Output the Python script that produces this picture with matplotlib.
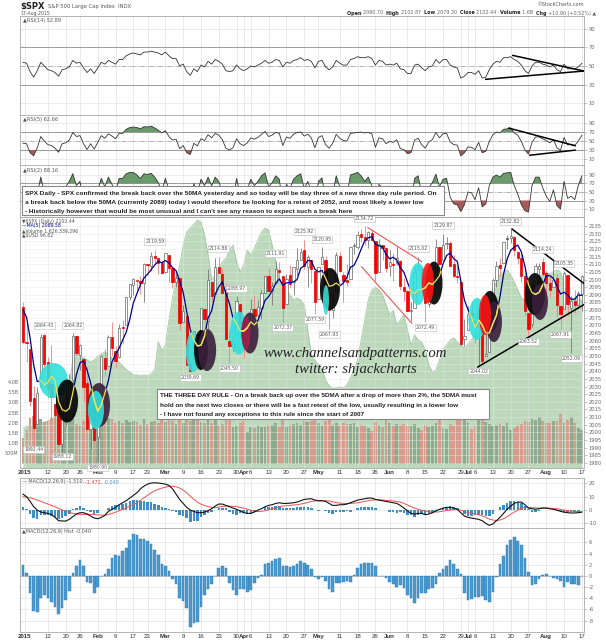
import numpy as np
import matplotlib.pyplot as plt
from matplotlib.patches import Ellipse, Rectangle
from matplotlib import font_manager

W, H = 606, 640

# $SPX daily bars, 31-Dec-2014 .. 17-Aug-2015 (one entry per trading day)
opens = [2082.1, 2058.9, 2054.4, 2022.2, 2005.6, 2030.6, 2063.5, 2046.1, 2031.6, 2018.4,
         2013.8, 1992.3, 2020.8, 2020.2, 2034.3, 2063.0, 2050.4, 2047.9, 2032.3, 2002.5, 2019.4,
         1996.7, 2022.7, 2048.9, 2043.5, 2062.3, 2053.5, 2049.4, 2068.6, 2070.0, 2088.8,
         2096.5, 2099.2, 2099.3, 2097.7, 2109.8, 2109.1, 2115.3, 2113.9, 2110.9,
         2105.2, 2115.8, 2107.7, 2098.5, 2100.9, 2072.3, 2076.1, 2044.7, 2041.1, 2064.6, 2055.4,
         2080.6, 2072.8, 2098.7, 2090.3, 2108.0, 2103.9, 2093.1, 2059.9, 2055.8, 2064.1, 2084.1,
         2067.6, 2060.0, 2064.9, 2080.8, 2076.9, 2081.3, 2091.5, 2102.0, 2092.3, 2097.8, 2106.0,
         2102.6, 2084.1, 2102.8, 2098.3, 2107.2, 2112.8, 2119.3, 2108.4, 2112.5, 2105.5,
         2087.4, 2110.2, 2112.6, 2091.3, 2080.0, 2092.1, 2115.6, 2102.9, 2099.6, 2100.4,
         2122.1, 2121.3, 2129.5, 2127.8, 2125.6, 2130.4, 2125.3, 2105.1, 2122.3, 2120.7,
         2108.6, 2110.4, 2110.6, 2112.4, 2095.1, 2092.3, 2079.1, 2081.1, 2106.2, 2107.4, 2091.3,
         2084.3, 2097.4, 2101.6, 2121.1, 2112.5, 2123.2, 2123.7, 2110.0, 2102.6, 2098.6, 2061.2,
         2067.0, 2078.0, 2073.0, 2069.5, 2077.7, 2049.7, 2052.7, 2080.0, 2099.7, 2109.2, 2110.6,
         2126.8, 2126.9, 2127.6, 2118.2, 2114.2, 2102.2, 2078.2, 2070.8, 2094.7, 2106.8, 2111.6,
         2104.5, 2097.7, 2095.3, 2100.8, 2082.6, 2081.0, 2102.7, 2081.1, 2086.2, 2083.2, 2090.7]
highs = [2085.6, 2072.4, 2054.4, 2030.3, 2029.6, 2064.1, 2064.43, 2049.3, 2056.9, 2018.4,
         2021.4, 2020.5, 2028.9, 2038.3, 2064.82, 2063.0, 2057.6, 2047.9, 2042.5, 2024.6, 2023.3,
         2021.7, 2050.3, 2054.7, 2063.6, 2072.4, 2056.2, 2070.9, 2073.5, 2088.5, 2097.0,
         2101.3, 2100.2, 2102.1, 2110.6, 2110.1, 2117.9, 2119.59, 2113.9, 2112.7,
         2117.5, 2115.8, 2107.7, 2104.3, 2100.9, 2083.5, 2076.1, 2050.1, 2066.4, 2064.6, 2081.4,
         2080.6, 2106.9, 2098.7, 2113.9, 2114.86, 2107.6, 2097.4, 2067.2, 2062.8, 2088.97, 2084.1,
         2067.6, 2072.2, 2087.0, 2089.8, 2086.7, 2093.3, 2102.6, 2107.7, 2098.6, 2111.91, 2111.3,
         2102.6, 2103.9, 2109.6, 2108.3, 2120.5, 2120.9, 2125.92, 2116.0, 2113.7, 2105.5,
         2108.4, 2120.95, 2115.2, 2098.4, 2092.9, 2117.7, 2117.7, 2105.1, 2110.2, 2121.5,
         2123.9, 2131.8, 2133.0, 2134.72, 2131.8, 2132.2, 2125.3, 2126.2, 2122.3, 2120.7,
         2119.2, 2117.6, 2121.9, 2112.9, 2101.0, 2093.0, 2085.6, 2108.5, 2115.02, 2107.4, 2091.3,
         2097.4, 2106.8, 2126.7, 2121.6, 2129.87, 2128.0, 2125.1, 2116.0, 2108.9, 2098.6, 2074.3,
         2082.8, 2085.1, 2078.6, 2083.7, 2077.7, 2074.3, 2081.3, 2100.7, 2112.0, 2114.1, 2124.4,
         2128.9, 2132.82, 2128.5, 2118.5, 2116.9, 2106.0, 2078.2, 2095.6, 2110.6, 2110.5, 2114.24,
         2105.7, 2102.5, 2112.7, 2103.3, 2082.6, 2105.35, 2102.7, 2089.1, 2092.9, 2092.5, 2102.87]
lows = [2057.9, 2046.0, 2017.3, 1992.44, 2005.6, 2030.6, 2038.3, 2022.6, 2008.3, 1988.4,
        1991.5, 1988.12, 2004.5, 2012.0, 2026.4, 2050.5, 2041.0, 2019.9, 2001.5, 1989.2, 1993.4,
        1980.9, 2022.7, 2036.7, 2043.5, 2050.0, 2041.9, 2048.6, 2058.0, 2070.0, 2086.7,
        2089.8, 2092.2, 2090.8, 2085.4, 2103.0, 2105.9, 2109.9, 2103.8, 2103.8,
        2104.5, 2098.3, 2094.5, 2095.2, 2067.3, 2072.2, 2044.2, 2039.69, 2041.1, 2041.2, 2055.4,
        2065.1, 2061.2, 2085.6, 2090.3, 2104.4, 2091.5, 2061.1, 2045.5, 2053.0, 2064.1, 2067.0,
        2048.4, 2057.3, 2056.5, 2076.1, 2073.3, 2074.3, 2091.5, 2092.3, 2083.2, 2097.8, 2100.0,
        2072.37, 2084.1, 2094.4, 2090.0, 2103.2, 2112.8, 2107.0, 2094.9, 2097.4, 2077.59,
        2087.4, 2110.2, 2088.5, 2067.93, 2075.0, 2092.1, 2104.6, 2085.6, 2096.0, 2100.4,
        2116.8, 2120.0, 2124.5, 2122.6, 2120.9, 2126.1, 2099.2, 2105.1, 2112.9, 2104.9,
        2102.5, 2099.1, 2109.6, 2093.2, 2085.7, 2079.1, 2073.0, 2081.1, 2106.2, 2091.3, 2072.49,
        2082.1, 2088.9, 2101.6, 2109.5, 2112.5, 2119.9, 2108.6, 2101.8, 2098.0, 2056.6, 2056.3,
        2067.0, 2071.0, 2058.4, 2044.02, 2044.5, 2049.7, 2052.7, 2080.0, 2095.0, 2102.5, 2110.6,
        2119.9, 2123.7, 2115.4, 2110.0, 2098.6, 2077.1, 2063.52, 2069.1, 2094.1, 2094.1, 2102.1,
        2087.3, 2088.6, 2095.3, 2075.5, 2067.91, 2081.0, 2076.5, 2052.09, 2078.3, 2080.6, 2079.3]
closes = [2058.9, 2058.2, 2020.6, 2002.6, 2025.9, 2062.1, 2044.8, 2028.3, 2023.0, 2011.3,
          1992.7, 2019.4, 2022.6, 2032.1, 2063.2, 2051.8, 2057.1, 2029.6, 2002.2, 2021.3, 1995.0,
          2020.9, 2050.0, 2041.5, 2062.5, 2055.5, 2046.7, 2068.6, 2068.5, 2088.5, 2097.0,
          2100.3, 2099.7, 2097.5, 2110.3, 2109.7, 2115.5, 2113.9, 2110.7, 2104.5,
          2117.4, 2107.8, 2098.5, 2101.0, 2071.3, 2079.4, 2044.2, 2040.2, 2066.0, 2053.4, 2081.2,
          2074.3, 2099.5, 2089.3, 2108.1, 2104.4, 2091.5, 2061.1, 2056.2, 2061.0, 2086.2, 2067.9,
          2059.7, 2067.0, 2080.6, 2076.3, 2081.9, 2091.2, 2102.1, 2092.4, 2095.8, 2106.6, 2105.0,
          2081.2, 2100.4, 2097.3, 2108.0, 2112.9, 2117.7, 2108.9, 2114.8, 2106.9, 2085.5,
          2108.3, 2114.5, 2089.5, 2080.2, 2088.0, 2116.1, 2105.3, 2099.1, 2098.5, 2121.1,
          2122.7, 2129.2, 2127.8, 2125.9, 2130.8, 2126.1, 2104.2, 2123.5, 2120.8, 2107.4,
          2111.7, 2109.6, 2114.1, 2095.8, 2092.8, 2079.3, 2080.2, 2105.2, 2108.9, 2094.1, 2084.4,
          2096.3, 2100.4, 2121.2, 2110.0, 2122.9, 2124.2, 2108.6, 2102.3, 2101.5, 2057.6, 2063.1,
          2077.4, 2076.8, 2068.8, 2081.3, 2046.7, 2051.3, 2076.6, 2099.6, 2109.0, 2107.4, 2124.3,
          2126.6, 2128.3, 2119.2, 2114.2, 2102.2, 2079.7, 2067.6, 2093.3, 2108.6, 2108.6, 2103.8,
          2098.0, 2093.3, 2099.8, 2083.6, 2077.6, 2104.2, 2084.1, 2086.1, 2083.4, 2091.5, 2102.44]
prev_close = 2080.35  # 30-Dec-2014

ma5 = [2080.1, 2075.4, 2061.7, 2044.1, 2033.2, 2033.9, 2031.2, 2032.7, 2036.8, 2033.9,
       2020.0, 2014.9, 2013.8, 2015.6, 2026.0, 2037.8, 2045.4, 2046.8, 2040.8, 2032.4,
       2021.0, 2013.8, 2017.9, 2025.7, 2034.0, 2046.1, 2051.2, 2055.0, 2060.4, 2065.6,
       2073.9, 2084.6, 2090.8, 2096.6, 2101.0, 2103.5, 2106.5, 2109.4, 2112.0, 2110.9,
       2112.4, 2110.9, 2107.8, 2105.8, 2099.2, 2091.6, 2078.9, 2067.2, 2060.2, 2056.6,
       2057.0, 2063.0, 2074.9, 2079.5, 2090.5, 2095.1, 2098.6, 2090.9, 2084.3, 2074.8,
       2071.2, 2066.5, 2066.2, 2068.4, 2072.3, 2070.3, 2073.1, 2079.4, 2086.4, 2088.8,
       2092.7, 2097.6, 2100.4, 2096.2, 2097.8, 2098.1, 2098.4, 2100.0, 2107.3, 2109.0,
       2112.5, 2112.2, 2106.8, 2104.9, 2106.0, 2100.9, 2095.6, 2096.1, 2097.7, 2095.8,
       2097.7, 2101.4, 2108.0, 2109.3, 2114.1, 2119.9, 2125.3, 2127.3, 2128.0, 2123.0,
       2122.1, 2121.1, 2116.4, 2113.5, 2114.6, 2112.7, 2107.7, 2104.8, 2098.3, 2092.4,
       2090.7, 2093.3, 2093.5, 2094.6, 2097.8, 2096.8, 2099.3, 2102.5, 2110.2, 2115.7,
       2117.4, 2113.6, 2111.9, 2098.8, 2086.6, 2080.4, 2075.3, 2068.7, 2073.5, 2070.2,
       2065.0, 2064.9, 2071.1, 2076.6, 2088.8, 2103.4, 2113.4, 2119.1, 2121.2, 2122.5,
       2118.1, 2108.7, 2096.6, 2091.4, 2090.3, 2091.6, 2096.4, 2102.5, 2102.5, 2100.7,
       2095.7, 2090.5, 2091.7, 2089.9, 2087.1, 2087.1, 2089.9, 2089.58]

volume_b = [1.25, 1.65, 2.25, 2.35, 2.15, 2.2, 2.05, 2.1, 2.25, 2.35,
            2.25, 2.5, 2.2, 2.2, 2.5, 1.95, 1.9, 2.1, 2.35, 2.25,
            2.55, 2.1, 2.35, 2.3, 2.25, 2.2, 2.0, 2.1, 2.0, 2.15,
            2.05, 2.1, 2.05, 1.9, 2.2, 1.95, 2.05, 2.1, 2.0, 2.2,
            2.05, 2.15, 2.1, 1.95, 2.25, 2.0, 2.45, 2.1, 2.3, 2.2,
            2.05, 2.0, 2.35, 2.0, 2.6, 1.9, 1.95, 2.2, 2.15, 1.8,
            1.85, 2.0, 2.1, 1.55, 1.8, 1.75, 1.85, 1.8, 1.8, 1.9,
            1.9, 2.0, 1.8, 2.4, 1.8, 1.9, 1.95, 2.0, 1.9, 2.1,
            2.05, 2.1, 2.45, 2.0, 1.85, 2.1, 2.2, 1.9, 2.0, 1.85,
            2.0, 1.95, 1.95, 2.0, 1.8, 1.9, 1.85, 1.75, 1.6, 2.05,
            1.9, 1.8, 2.35, 2.0, 1.85, 1.95, 1.9, 1.95, 1.85, 1.85,
            1.95, 1.75, 1.65, 1.9, 1.8, 1.85, 2.0, 2.5, 1.75, 1.7,
            1.95, 1.85, 2.4, 2.3, 2.2, 2.05, 1.7, 1.9, 2.3, 2.25,
            2.05, 1.95, 1.85, 1.9, 1.95, 1.85, 2.0, 1.65, 1.75, 1.85,
            1.95, 2.1, 2.05, 2.2, 2.15, 2.3, 2.1, 2.0, 2.0, 2.1,
            2.1, 2.45, 2.0, 2.15, 2.3, 2.0, 1.75, 1.63]

usd = [91.34, 91.39, 91.43, 91.47, 91.52, 91.56, 91.60, 91.65, 91.69, 91.78,
       91.91, 92.13, 92.56, 93.21, 94.30, 94.60, 94.52, 94.39, 94.30, 94.21,
       94.30, 94.47, 94.56, 94.65, 94.52, 94.39, 94.30, 94.21, 94.04, 93.87,
       93.78, 93.65, 93.65, 93.60, 93.65, 93.60, 93.69, 93.87, 95.08, 94.73,
       94.95, 96.04, 97.00, 97.78, 98.43, 99.30, 99.87, 100.04, 100.21, 100.39,
       100.30, 99.73, 98.87, 97.78, 98.00, 98.30, 98.56, 98.73, 99.08, 99.30,
       98.56, 98.13, 98.43, 99.08, 98.87, 99.17, 99.52, 99.87, 100.04, 99.95,
       99.30, 98.56, 97.87, 97.56, 97.34, 97.13, 96.91, 97.00, 96.91, 96.69,
       95.60, 94.52, 94.30, 94.08, 93.87, 93.43, 93.17, 93.08, 93.08, 93.13,
       93.08, 93.21, 93.52, 93.87, 94.30, 95.17, 96.04, 96.91, 97.34, 97.47,
       97.34, 97.13, 96.69, 96.26, 96.47, 95.82, 96.04, 96.26, 95.60, 94.95,
       95.39, 95.17, 95.08, 94.73, 94.08, 93.78, 93.87, 94.30, 94.73, 94.95,
       95.17, 95.26, 95.08, 94.95, 94.82, 95.00, 95.17, 95.39, 95.52, 95.60,
       96.04, 96.91, 97.34, 97.69, 98.00, 98.13, 98.21, 98.00, 97.69, 97.34,
       97.00, 96.91, 97.34, 97.56, 97.78, 97.95, 98.00, 98.13, 98.04, 98.13,
       98.21, 98.13, 97.56, 97.13, 96.91, 97.00, 97.08, 96.82]

rsi14 = [54, 53, 44, 38, 45, 54, 50, 46, 45, 43,
         39, 46, 47, 49, 56, 53, 54, 48, 43, 47,
         42, 48, 54, 52, 56, 54, 52, 57, 57, 61,
         63, 64, 63, 62, 65, 65, 66, 65, 64, 62,
         65, 61, 58, 58, 50, 52, 44, 40, 47, 44,
         51, 49, 55, 52, 57, 55, 52, 45, 44, 45,
         51, 47, 45, 47, 50, 49, 51, 53, 56, 53,
         54, 57, 56, 49, 54, 53, 56, 57, 59, 56,
         57, 55, 48, 55, 56, 49, 46, 49, 56, 53,
         51, 51, 57, 58, 60, 59, 59, 60, 58, 51,
         56, 55, 51, 52, 51, 53, 47, 46, 42, 42,
         51, 52, 48, 45, 49, 50, 57, 53, 57, 57,
         51, 49, 48, 37, 39, 43, 43, 41, 45, 37,
         38, 46, 52, 55, 54, 59, 59, 60, 57, 55,
         51, 45, 42, 50, 54, 54, 52, 51, 49, 51,
         46, 44, 52, 47, 47, 47, 49, 52.89]
rsi5 = [45, 44, 24, 17, 35, 60, 50, 42, 40, 34,
        25, 44, 46, 52, 69, 60, 62, 44, 31, 44,
        32, 47, 62, 56, 66, 61, 55, 67, 67, 76,
        80, 81, 80, 77, 82, 81, 83, 79, 74, 68,
        73, 60, 52, 54, 33, 40, 24, 20, 45, 39,
        55, 51, 64, 57, 67, 63, 53, 34, 30, 35,
        55, 44, 40, 46, 57, 54, 58, 65, 71, 60,
        63, 69, 67, 40, 59, 56, 65, 69, 70, 61,
        65, 57, 35, 58, 62, 42, 34, 45, 65, 56,
        51, 50, 67, 68, 69, 70, 68, 69, 66, 36,
        57, 55, 44, 49, 47, 53, 33, 31, 22, 24,
        52, 56, 42, 34, 48, 53, 69, 57, 66, 67,
        48, 42, 41, 17, 24, 37, 36, 31, 47, 24,
        27, 49, 64, 70, 68, 76, 77, 79, 68, 63,
        49, 30, 21, 47, 59, 59, 55, 51, 46, 53,
        35, 29, 58, 41, 43, 40, 50, 62.66]
rsi2 = [10, 9, 3, 2, 45, 85, 50, 30, 25, 18,
        8, 55, 62, 75, 93, 65, 75, 30, 12, 45,
        15, 55, 82, 62, 85, 68, 50, 82, 82, 93,
        96, 96, 90, 82, 93, 91, 94, 85, 72, 52,
        82, 55, 35, 45, 10, 40, 7, 5, 70, 45,
        80, 65, 85, 65, 85, 75, 48, 15, 10, 30,
        82, 45, 30, 55, 80, 65, 75, 88, 95, 62,
        72, 88, 80, 20, 68, 58, 80, 88, 93, 58,
        75, 52, 18, 75, 83, 32, 20, 45, 88, 62,
        45, 42, 90, 93, 96, 88, 75, 85, 65, 15,
        68, 60, 33, 50, 42, 60, 18, 14, 6, 15,
        82, 88, 45, 25, 60, 72, 92, 62, 80, 82,
        38, 22, 20, 4, 20, 50, 48, 32, 60, 15,
        22, 65, 85, 90, 85, 94, 95, 96, 65, 45,
        20, 6, 3, 65, 85, 85, 60, 40, 28, 55,
        18, 10, 75, 35, 40, 32, 65, 88.16]

macd = [12, 10, 6.5, 2.5, 0, -1.5, -2, -2.5, -3.5, -5.5,
        -8, -8.2, -8.3, -7, -5, -3, -2, -2, -3, -4.5,
        -6, -6.5, -5.5, -4, -1, 0.5, 2, 4, 5.5, 7,
        9, 11, 13, 16, 18, 19.5, 20.3, 20.5, 20.3, 20,
        19.5, 18.5, 16, 12, 8, 5, 2, 0, -1, -2,
        -2, -1.5, -0.5, 1, 3, 4.5, 4.5, 3.5, 2.5, 1.5,
        0.5, -0.5, -2, -2.5, -2.5, -1.5, 0, 1, 2.5, 3.5,
        4, 5, 5.5, 5, 5, 5.2, 5.5, 6, 7, 8,
        8.3, 8.5, 7.5, 7, 7, 6.5, 5, 3.5, 3.5, 4,
        4, 4.5, 5.5, 6.5, 7.5, 8, 8.5, 9, 9, 8,
        7.5, 7, 6.5, 6, 5.5, 5, 3.5, 1.5, -0.5, -2.5,
        -3, -2.5, -2.5, -3.5, -3, -2, -0.5, 0.5, 1.5, 2,
        2, 1.5, 0.5, -2, -4.5, -5.5, -6, -6.5, -7, -8,
        -10, -11.5, -10.5, -8, -5.5, -2.5, 0.5, 3, 5, 6,
        6, 4, 1.5, 1, 0.5, 1, 1.5, 1.5, 1, 0.5,
        0, -1, -1.5, -2, -2.2, -2.2, -2, -1.51]
signal = [10, 9.8, 9.2, 8.5, 7.5, 6.5, 5.5, 4.5, 3.5, 2.5,
          1.2, 0, -1, -1.8, -2.5, -3, -3.2, -3.3, -3.2, -3.2,
          -3.4, -3.6, -3.8, -3.8, -3.4, -2.6, -1.6, -0.5, 0.5, 1.5,
          2.8, 4, 5.4, 7.3, 9.3, 11.2, 13, 14.5, 15.6, 16.5,
          17.2, 17.8, 18, 17.5, 16.5, 15, 13, 10.5, 8, 6,
          4.4, 3.5, 2.6, 2, 1.8, 2.2, 2.8, 3, 3, 2.8,
          2.5, 2, 1.4, 0.6, -0.2, -0.8, -1.1, -1, -0.5, 0.2,
          0.9, 1.7, 2.5, 3, 3.3, 3.5, 3.8, 4, 4.5, 5,
          5.8, 6.5, 6.8, 7, 7, 7, 6.8, 6.2, 5.6, 5.2,
          5, 4.9, 4.9, 5.2, 5.5, 6, 6.5, 7, 7.5, 7.7,
          7.7, 7.5, 7.3, 7.1, 6.8, 6.5, 6, 5, 3.8, 2.5,
          1.5, 0.5, -0.2, -0.8, -1.3, -1.5, -1.5, -1.3, -0.8, -0.4,
          0, 0.3, 0.3, 0, -1, -1.9, -2.5, -3, -3.5, -4.5,
          -5.5, -6.8, -7.5, -8, -7.5, -6.5, -5, -3.2, -1.5, 0,
          1.5, 2, 2, 1.8, 1.7, 1.5, 1.5, 1.5, 1.4, 1.2,
          1, 0.5, 0, -0.4, -0.8, -1.1, -1.3, -1.47]
hist = [2, 0.5, -3, -6.3, -6.5, -4, -3.5, -4, -4.7, -5.5,
        -6.8, -5.7, -4.4, -2.7, 0.5, 1.7, 2.8, 1.7, -1, -1.2,
        -3, -2, 0, 0.3, 1.3, 3.2, 3.8, 3.5, 4.5, 5,
        6.5, 7.6, 7.4, 6.7, 6.6, 6.2, 5.7, 4.6, 3.8, 2.1,
        1.8, 0.8, -0.5, -1.5, -4, -4.5, -5.7, -9.2, -8.5, -8.2,
        -5.5, -3.5, -2.4, -1.4, 0, 1.4, 1.7, 1.4, -1.2, -2.6,
        -3.4, -2.3, -2.4, -2.8, -2.6, -1.2, -0.3, 0.1, 2.2, 2.3,
        2.6, 3, 3.2, 1.8, 1.8, 1.6, 1.8, 2.2, 2.6, 2.3,
        2, 1.3, -0.2, -0.5, -0.2, -0.9, -2.3, -2.8, -1.3, -1.2,
        -1.1, -0.9, -1.1, 0.2, 1.5, 2.1, 2.3, 2.3, 2.4, 1.8,
        0, 0, -0.3, -1.1, -1.5, -2, -1.6, -2.2, -3.4, -4,
        -4.9, -4, -3, -3.1, -2.3, -2.1, -1.5, 0.6, 1.2, 1.8,
        2.8, 2.1, 1.2, 0.3, -3, -4.3, -4.1, -3.8, -3.8, -3.6,
        -4.3, -4.6, -2.9, -0.1, 2.2, 3.6, 5.6, 6.5, 7, 6.3,
        5.5, 3.3, 0.7, -1.6, -1.5, -0.6, 0.2, 0.3, 0, -0.3,
        -0.6, -0.9, -2, -1.1, -1.4, -1.5, -1.6, -0.04]

tick_pos = [0.5, 7, 12, 16, 21, 26, 31, 35, 40, 45, 50, 55, 60, 62, 64, 69, 74, 79,
            83, 89, 94, 99, 103, 108, 113, 118, 123, 125, 127, 132, 137, 142, 147, 152, 157]
tick_lbl = ['2015', '12', '20', '26', 'Feb', '9', '17', '23', 'Mar', '9', '16', '23', '30',
            'Apr', '6', '13', '20', '27', 'May', '11', '18', '26', 'Jun', '8', '15', '22', '29',
            'Jul', '6', '13', '20', '27', 'Aug', '10', '17']
months = {'2015', 'Feb', 'Mar', 'Apr', 'May', 'Jun', 'Jul', 'Aug'}

# high / low annotations: (bar, value, side)
price_labels = [(6, 2064.43, 'hi'), (14, 2064.82, 'hi'), (3, 1992.44, 'lo'), (11, 1988.12, 'lo'),
                (21, 1980.90, 'lo'), (37, 2119.59, 'hi'), (47, 2039.69, 'lo'), (55, 2114.86, 'hi'),
                (58, 2045.50, 'lo'), (60, 2088.97, 'hi'), (71, 2111.91, 'hi'), (73, 2072.37, 'lo'),
                (79, 2125.92, 'hi'), (84, 2120.95, 'hi'), (82, 2077.59, 'lo'), (86, 2067.93, 'lo'),
                (96, 2134.72, 'hi'), (111, 2115.02, 'hi'), (113, 2072.49, 'lo'), (118, 2129.87, 'hi'),
                (128, 2044.02, 'lo'), (137, 2132.82, 'hi'), (142, 2063.52, 'lo'), (146, 2114.24, 'hi'),
                (151, 2067.91, 'lo'), (152, 2105.35, 'hi'), (154, 2052.09, 'lo')]

CYAN, BLACK, PURPLE, RED, CRIMSON = '#2fe0dc', '#000000', '#3a1f3c', '#ff1414', '#a0204c'
# hand drawn ellipses: (bar, price, width in bars, height in points, colour)
ellipses = [(8.57, 2033.9, 8.1, 22.9, CYAN), (12.36, 2020.5, 6.2, 28.1, BLACK),
            (21.35, 2017.9, 6.2, 28.8, PURPLE), (20.5, 2014.7, 4.5, 24.9, CYAN),
            (47.75, 2052.6, 3.9, 26.2, CYAN), (50.0, 2053.9, 3.9, 26.2, BLACK),
            (51.7, 2053.9, 5.1, 27.5, PURPLE),
            (60.67, 2065.0, 5.1, 28.1, CYAN), (63.76, 2065.0, 4.8, 26.8, PURPLE),
            (62.64, 2065.0, 2.5, 22.2, CRIMSON),
            (86.24, 2093.8, 5.6, 27.5, BLACK), (85.11, 2086.6, 1.7, 19.6, CYAN),
            (110.96, 2097.1, 4.8, 27.5, CYAN), (115.45, 2097.7, 4.8, 28.1, BLACK),
            (113.76, 2097.7, 3.4, 26.2, RED),
            (127.53, 2074.2, 4.8, 27.5, CYAN), (131.18, 2078.8, 5.1, 27.5, BLACK),
            (132.3, 2072.2, 4.5, 26.2, PURPLE), (129.78, 2076.8, 3.4, 26.2, RED),
            (143.82, 2090.5, 5.6, 27.5, BLACK), (145.22, 2085.3, 4.5, 23.5, PURPLE)]

black_lines = [((137.4, 2133.0), (157.6, 2097.4)), ((127.8, 2042.8), (157.6, 2083.6))]
red_lines = [((96.9, 2133.9), (112.0, 2111.7)), ((95.1, 2108.4), (109.2, 2071.4))]
rsi14_lines = [((137.6, 61.4), (157.6, 44.6)), ((130.0, 35.7), (157.6, 44.6))]
rsi5_lines = [((136.5, 78.6), (155.1, 39.5)), ((142.4, 18.4), (155.1, 29.7))]

note_top = ["SPX Daily - SPX confirmed the break back over the 50MA yesterday and so today will be day three of a new three day rule period. On",
            "a break back below the 50MA (currently 2089) today I would therefore be looking for a retest of 2052, and most likely a lower low",
            "- Historically however that would be most unusual and I can't see any reason to expect such a break here"]
note_rule = ["THE THREE DAY RULE - On a break back up over the 5DMA after a drop of more than 2%, the 5DMA must",
             "hold on the next two closes or there will be a fast retest of the low, usually resulting in a lower low",
             "- I have not found any exceptions to this rule since the start of 2007"]

# ---------------------------------------------------------------------------
N = len(closes)
for name, s in [('opens', opens), ('highs', highs), ('lows', lows), ('ma5', ma5), ('vol', volume_b),
                ('usd', usd), ('rsi14', rsi14), ('rsi5', rsi5), ('rsi2', rsi2), ('macd', macd),
                ('signal', signal), ('hist', hist)]:
    assert len(s) == N, (name, len(s), N)

x = np.arange(N)
o, h, l, c = map(np.array, (opens, highs, lows, closes))
XL = (-0.84, 157.6)
GRID = '#e3e3e3'
SPINE = '#a8a8a8'
LBL = '#666666'

names = {f.name for f in font_manager.fontManager.ttflist}
NARROW = 'Liberation Sans Narrow' if 'Liberation Sans Narrow' in names else 'Liberation Sans'

fig = plt.figure(figsize=(W / 100, H / 100), dpi=100)
fig.patch.set_facecolor('white')
renderer = fig.canvas.get_renderer()


def px_axes(x0, y0, x1, y1, **kw):
    return fig.add_axes([x0 / W, 1 - y1 / H, (x1 - x0) / W, (y1 - y0) / H], **kw)


def fx(px):
    return px / W


def fy(py):
    return 1 - py / H


def style(ax, yticks, ylim, ylabels=None, grid=True):
    ax.set_xlim(XL)
    ax.set_ylim(ylim)
    ax.set_xticks(tick_pos)
    ax.tick_params(axis='x', length=0, labelbottom=False)
    ax.yaxis.tick_right()
    ax.set_yticks(yticks)
    ax.set_yticklabels(ylabels if ylabels is not None else [str(t) for t in yticks])
    ax.tick_params(axis='y', length=2, width=0.4, color='#999999', labelcolor=LBL,
                   labelsize=3.7, pad=1.2)
    if grid:
        ax.grid(True, color=GRID, lw=0.5, zorder=0)
        ax.set_axisbelow(True)
    for s in ax.spines.values():
        s.set_color(SPINE)
        s.set_linewidth(0.6)


def date_labels(ax):
    ax.tick_params(axis='x', labelbottom=True, pad=1.5)
    ax.set_xticklabels(tick_lbl)
    for t in ax.get_xticklabels():
        t.set_family(NARROW)
        t.set_fontsize(4.4)
        t.set_color('#333333')
        if t.get_text() in months:
            t.set_fontweight('bold')


def fit(t, width_px):
    w = t.get_window_extent(renderer).width
    t.set_fontsize(t.get_fontsize() * width_px / w)


def segments(x0, y, parts, size):
    xx = x0
    for s, wgt, col in parts:
        t = fig.text(fx(xx), fy(y), s, fontsize=size, fontweight=wgt, color=col,
                     va='center', ha='left')
        xx += t.get_window_extent(renderer).width
    return xx


def rsi_panel(ax, vals, ylim, fills):
    style(ax, [10, 30, 50, 70, 90], ylim)
    ax.axhline(70, color='#9a9a9a', lw=0.7, zorder=1)
    ax.axhline(30, color='#9a9a9a', lw=0.7, zorder=1)
    ax.axhline(50, color='#aaaaaa', lw=0.6, ls=(0, (6, 2, 1, 2)), zorder=1)
    v = np.array(vals, dtype=float)
    if fills:
        ax.fill_between(x, v, 70, where=v > 70, interpolate=True, color='#6a9a6a',
                        lw=0, zorder=2)
        ax.fill_between(x, v, 30, where=v < 30, interpolate=True, color='#a65a5a',
                        lw=0, zorder=2)
    ax.plot(x, v, color='#333333', lw=0.6, zorder=3)


# ---- RSI panels ------------------------------------------------------------
ax14 = px_axes(20, 16, 584, 115)
rsi_panel(ax14, rsi14, (-2.7, 103.8), False)
for (a, b) in rsi14_lines:
    ax14.plot([a[0], b[0]], [a[1], b[1]], color='black', lw=1.1, zorder=4)
ax14.text(0.005, 0.95, '\u25b2RSI(14) 52.89', transform=ax14.transAxes, fontsize=3.6,
          color='#555555', va='center')

ax5 = px_axes(20, 115, 584, 165)
rsi_panel(ax5, rsi5, (-3.3, 107.8), True)
for (a, b) in rsi5_lines:
    ax5.plot([a[0], b[0]], [a[1], b[1]], color='black', lw=1.1, zorder=4)
ax5.text(0.005, 0.9, '\u25b2RSI(5) 62.66', transform=ax5.transAxes, fontsize=3.6,
         color='#555555', va='center')

ax2 = px_axes(20, 165, 584, 217)
rsi_panel(ax2, rsi2, (-8.8, 113.5), True)
ax2.text(0.005, 0.9, '\u25b2RSI(2) 88.16', transform=ax2.transAxes, fontsize=3.6,
         color='#555555', va='center')

# ---- price panel: USD area, volume, candles ----------------------------------
ax_usd = px_axes(20, 217, 584, 468)
ax_usd.set_zorder(1)
ax_usd.set_xlim(XL)
ax_usd.set_ylim(89.6, 100.52)
ax_usd.axis('off')
ax_usd.fill_between(x, 89.6, usd, color='#bcd9bc', lw=0)
ax_usd.plot(x, usd, color='#9fc59f', lw=0.6)

ax_vol = px_axes(20, 217, 584, 468)
ax_vol.set_zorder(2)
ax_vol.patch.set_alpha(0)
ax_vol.set_xlim(XL)
ax_vol.set_ylim(-0.22, 12.09)
prev = np.r_[prev_close, c[:-1]]
vol_col = np.where(c >= prev, '#8fa98f', '#d69c8e')
ax_vol.bar(x, volume_b, width=0.78, color=vol_col, lw=0)
ax_vol.set_xticks([])
ax_vol.set_yticks([0.5, 1.0, 1.5, 2.0, 2.5, 3.0, 3.5, 4.0])
ax_vol.set_yticklabels(['500M', '1.0B', '1.5B', '2.0B', '2.5B', '3.0B', '3.5B', '4.0B'])
ax_vol.tick_params(axis='y', length=0, labelsize=3.5, labelcolor=LBL, pad=1)
for s in ax_vol.spines.values():
    s.set_visible(False)

ax = px_axes(20, 217, 584, 468)
ax.set_zorder(3)
ax.patch.set_alpha(0)
style(ax, list(range(1980, 2136, 5)), (1976.7, 2140.9))
date_labels(ax)
ax.grid(True, color='#e6e6e6', lw=0.45, alpha=0.7, zorder=0)

hollow = c >= o
down = c < prev
body_lo = np.minimum(o, c)
body_h = np.maximum(np.abs(c - o), 0.35)
wick_col = np.where(down, '#ee8080', '#777777')
ax.vlines(x, l, h, colors=wick_col, lw=0.6, zorder=3)
face = np.where(hollow, 'white', np.where(down, '#ff0000', '#000000'))
edge = np.where(down, '#e00000', '#666666')
ax.bar(x, body_h, bottom=body_lo, width=0.64, color=face, edgecolor=edge, lw=0.5, zorder=4)
ax.plot(x, ma5, color='#00008b', lw=0.9, zorder=5)

# the marker ellipses invert what lies below them: the blue MA shows yellow inside
for (cx, cy, ew, eh, col) in ellipses:
    e = Ellipse((cx, cy), ew, eh, facecolor=col, edgecolor='none', alpha=0.9, zorder=6)
    ax.add_patch(e)
    inv, = ax.plot(x, ma5, color='#f2e35a', lw=0.9, zorder=6.5)
    inv.set_clip_path(e)

for (a, b) in black_lines:
    ax.plot([a[0], b[0]], [a[1], b[1]], color='black', lw=1.1, zorder=7)
for (a, b) in red_lines:
    ax.plot([a[0], b[0]], [a[1], b[1]], color='#ee5555', lw=0.8, zorder=7)

for (i, v, side) in price_labels:
    dy = 4 if side == 'hi' else -2.5
    ax.annotate(f'{v:.2f}', (i, v), xytext=(0, dy), textcoords='offset points',
                ha='center', va='bottom' if side == 'hi' else 'top', fontsize=3.3,
                color='#555555', zorder=8,
                bbox=dict(boxstyle='square,pad=0.2', fc='white', ec='#bbbbbb', lw=0.4))

legend = [('\u25bc$SPX (Daily) 2102.44', '#555555'), ('\u2014MA(5) 2089.58', '#00008b'),
          ('\u25b2Volume 1,626,339,296', '#555555'), ('\u25b2$USD 96.82', '#555555')]
for k, (s, col) in enumerate(legend):
    fig.text(fx(22), fy(221 + 5 * k), s, fontsize=3.3, color=col, va='center', zorder=9)

# ---- MACD panels -------------------------------------------------------------
axm = px_axes(20, 478, 584, 528)
style(axm, [-10, 0, 10, 20], (-13.5, 24.1))
axm.bar(x, hist, width=0.7, color='#3d8fca', lw=0, zorder=2)
axm.plot(x, signal, color='#f05050', lw=0.7, zorder=3)
axm.plot(x, macd, color='#111111', lw=0.8, zorder=4)
segments(22, 482, [('\u2014 MACD(12,26,9) -1.510, ', 'normal', '#555555'),
                   ('-1.471, ', 'normal', '#e04040'), ('-0.040', 'normal', '#4a90c8')], 3.5)

axh = px_axes(20, 528, 584, 632)
style(axh, [-8, -6, -4, -2, 0, 2, 4, 6], (-10.05, 8.6))
axh.axhline(0, color='#bbbbbb', lw=0.5, zorder=1)
axh.bar(x, hist, width=0.74, color='#4a9bd2', edgecolor='#2a74ad', lw=0.3, zorder=2)
date_labels(axh)
fig.text(fx(22), fy(532), '\u25b2MACD(12,26,9) Hist -0.040', fontsize=3.5, color='#555555',
         va='center')

# ---- header ------------------------------------------------------------------
xe = segments(20, 6, [('$SPX', 'bold', '#222222')], 6.0)
fig.text(fx(xe + 3), fy(6.5), 'S&P 500 Large Cap Index  INDX', fontsize=3.8, color='#555555',
         va='center')
fig.text(fx(20), fy(13.5), '17-Aug-2015', fontsize=3.3, color='#555555', va='center')
fig.text(fx(584), fy(5), '\u00a9StockCharts.com', fontsize=3.5, color='#555555',
         va='center', ha='right')
segments(347, 13, [('Open ', 'bold', '#222222'), ('2090.70  ', 'normal', '#666666'),
                   ('High ', 'bold', '#222222'), ('2102.87  ', 'normal', '#666666'),
                   ('Low ', 'bold', '#222222'), ('2079.30  ', 'normal', '#666666'),
                   ('Close ', 'bold', '#222222'), ('2102.44  ', 'normal', '#666666'),
                   ('Volume ', 'bold', '#222222'), ('1.6B  ', 'normal', '#666666'),
                   ('Chg ', 'bold', '#222222'), ('+10.90 (+0.52%) \u25b2', 'normal', '#666666')],
         3.5)

# ---- notes -------------------------------------------------------------------
fig.add_artist(Rectangle((fx(22), fy(215)), (444 - 22) / W, (215 - 186) / H,
                         transform=fig.transFigure, facecolor='white', edgecolor='#888888',
                         lw=0.8, zorder=10))
tops = []
for k, s in enumerate(note_top):
    tops.append(fig.text(fx(25), fy(193 + 9.4 * k), s, fontsize=6, fontweight='bold',
                         family=NARROW, color='#222222', va='center', zorder=11))
fit(tops[0], 414)
for t in tops[1:]:
    t.set_fontsize(tops[0].get_fontsize())

fig.add_artist(Rectangle((fx(157), fy(419)), (489 - 157) / W, (419 - 389) / H,
                         transform=fig.transFigure, facecolor='white', edgecolor='#888888',
                         lw=0.8, zorder=10))
rules = []
for k, s in enumerate(note_rule):
    rules.append(fig.text(fx(160), fy(396 + 9.2 * k), s, fontsize=6, fontweight='bold',
                          family=NARROW, color='#222222', va='center', zorder=11))
fit(rules[0], 322)
for t in rules[1:]:
    t.set_fontsize(rules[0].get_fontsize())

wm1 = fig.text(fx(355), fy(354), 'www.channelsandpatterns.com', family='Liberation Serif',
               style='italic', fontsize=11, color='#222222', ha='center', va='center', zorder=9)
fit(wm1, 183)
wm2 = fig.text(fx(356), fy(370), 'twitter: shjackcharts', family='Liberation Serif',
               style='italic', fontsize=11, color='#222222', ha='center', va='center', zorder=9)
wm2.set_fontsize(wm1.get_fontsize())

fig.savefig('out.png', dpi=100, facecolor='white')
